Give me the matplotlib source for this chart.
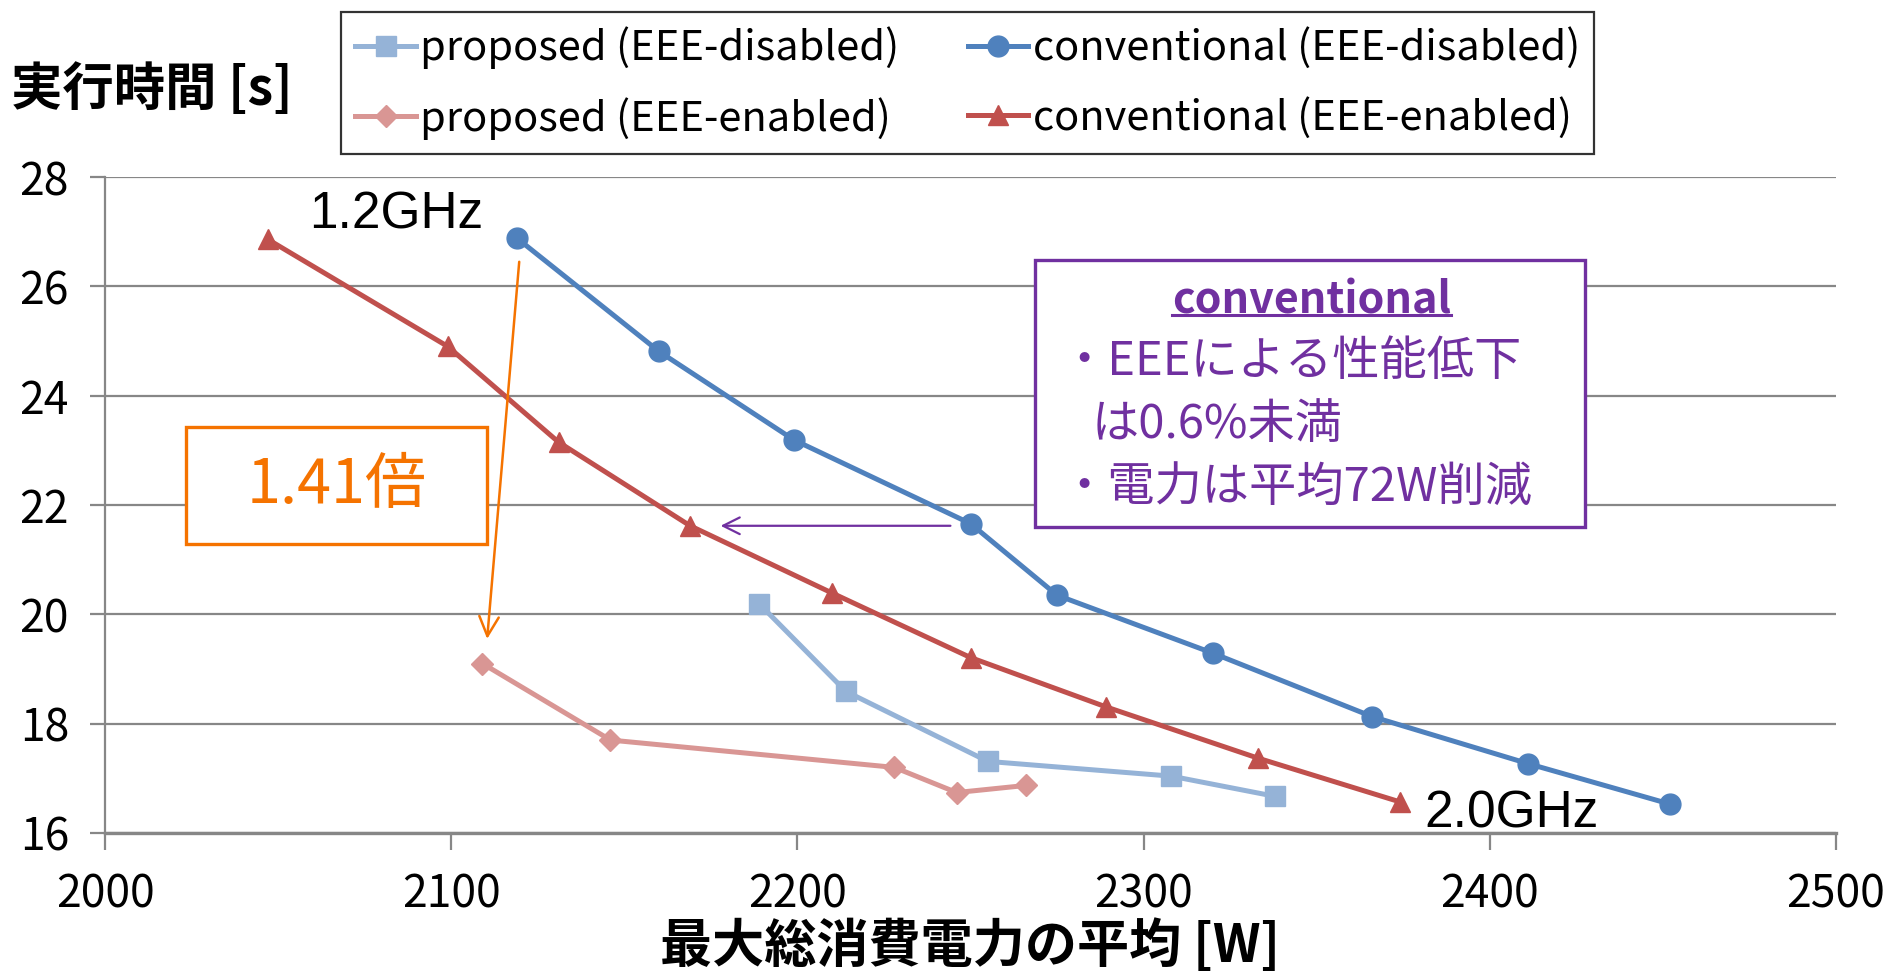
import numpy as np
import matplotlib.pyplot as plt
from matplotlib.patches import Rectangle
from matplotlib.lines import Line2D

plt.rcParams['font.family'] = ['Noto Sans CJK JP', 'DejaVu Sans']

# data
x_prop_dis = [2189, 2214, 2255, 2308, 2338]
y_prop_dis = [20.19, 18.59, 17.31, 17.04, 16.67]
x_prop_en = [2109, 2146, 2228, 2246, 2266]
y_prop_en = [19.10, 17.70, 17.20, 16.74, 16.87]
x_conv_dis = [2119, 2160, 2199, 2250, 2275, 2320, 2366, 2411, 2452]
y_conv_dis = [26.88, 24.81, 23.19, 21.66, 20.35, 19.29, 18.13, 17.27, 16.53]
x_conv_en = [2047, 2099, 2131, 2169, 2210, 2250, 2289, 2333, 2374]
y_conv_en = [26.86, 24.90, 23.15, 21.62, 20.39, 19.21, 18.31, 17.37, 16.57]

labels = ['proposed (EEE-disabled)', 'proposed (EEE-enabled)',
          'conventional (EEE-disabled)', 'conventional (EEE-enabled)']
xticks = [2000, 2100, 2200, 2300, 2400, 2500]
yticks = [16, 18, 20, 22, 24, 26, 28]

c_prop_dis = '#95B3D7'
c_prop_en = '#D99694'
c_conv_dis = '#4F81BD'
c_conv_en = '#C0504D'
orange = '#F57300'
purple = '#7030A0'
grid = '#878787'

fig = plt.figure(figsize=(18.9, 9.77), dpi=100)
ax = fig.add_axes([0.0556, 0.1474, 0.9158, 0.6714])

lw = 3.6
h1, = ax.plot(x_prop_dis, y_prop_dis, '-s', color=c_prop_dis, lw=lw, ms=14, label=labels[0], zorder=3)
h2, = ax.plot(x_prop_en, y_prop_en, '-D', color=c_prop_en, lw=lw, ms=11, label=labels[1], zorder=3)
h3, = ax.plot(x_conv_dis, y_conv_dis, '-o', color=c_conv_dis, lw=lw, ms=15, label=labels[2], zorder=3)
h4, = ax.plot(x_conv_en, y_conv_en, '-^', color=c_conv_en, lw=lw, ms=15, label=labels[3], zorder=3)

ax.set_xlim(2000, 2500)
ax.set_ylim(16, 28)
ax.set_xticks(xticks)
ax.set_yticks(yticks)
ax.tick_params(axis='x', labelsize=32, length=12, width=1.6, color=grid, pad=16)
ax.tick_params(axis='y', labelsize=32, length=11, width=1.6, color=grid, pad=15)
ax.yaxis.grid(True, color=grid, lw=1.6)
ax.set_axisbelow(True)
for s in ['top', 'right']:
    ax.spines[s].set_visible(False)
ax.spines['left'].set_color(grid)
ax.spines['left'].set_linewidth(1.6)
ax.spines['bottom'].set_color(grid)
ax.spines['bottom'].set_linewidth(2.4)

ax.set_xlabel('最大総消費電力の平均 [W]', fontsize=37.5, fontweight='bold', labelpad=1)
fig.text(0.006, 0.908, '実行時間 [s]', fontsize=37, fontweight='bold', ha='left', va='center')

leg = fig.legend([h1, h2, h3, h4], labels, ncol=2, loc='center',
                 bbox_to_anchor=(0.512, 0.915), fontsize=30, frameon=True,
                 fancybox=False, edgecolor='black', handlelength=1.45,
                 handletextpad=0.1, columnspacing=1.65, borderpad=0.34,
                 labelspacing=0.66)
leg.get_frame().set_linewidth(1.6)

# annotations
ax.text(2059, 27.3, '1.2GHz', fontsize=37, family='Liberation Sans', ha='left', va='center')
ax.text(2381, 16.35, '2.0GHz', fontsize=37, family='Liberation Sans', ha='left', va='center',
        clip_on=False)

ax.add_patch(Rectangle((2023.4, 21.29), 86.9, 2.14, facecolor='white', edgecolor=orange,
                       lw=2.4, zorder=2))
ax.text(2066.8, 22.36, '1.41倍', fontsize=44, color=orange, ha='center', va='center', zorder=4)
ax.annotate('', xy=(2110.3, 19.5), xytext=(2119.7, 26.5),
            arrowprops=dict(arrowstyle='->', color=orange, lw=1.8, mutation_scale=35), zorder=5)

ax.add_patch(Rectangle((2268.6, 21.59), 159.0, 4.9, facecolor='white', edgecolor=purple,
                       lw=2.4, zorder=2))
t_conv = ax.text(2348.6, 25.75, 'conventional', fontsize=31, fontweight='bold', color=purple,
                 ha='center', va='center', zorder=4)
ax.text(2276, 24.62, '・EEEによる性能低下', fontsize=34, color=purple, ha='left', va='center', zorder=4)
ax.text(2285, 23.46, 'は0.6%未満', fontsize=34, color=purple, ha='left', va='center', zorder=4)
ax.text(2276, 22.31, '・電力は平均72W削減', fontsize=34, color=purple, ha='left', va='center', zorder=4)
ax.annotate('', xy=(2177, 21.62), xytext=(2245, 21.62),
            arrowprops=dict(arrowstyle='->', color=purple, lw=1.6, mutation_scale=30), zorder=5)

# underline for the box title
fig.canvas.draw()
bb = t_conv.get_window_extent().transformed(fig.transFigure.inverted())
uy = bb.y0 + 0.17 * bb.height
fig.add_artist(Line2D([bb.x0, bb.x1], [uy, uy], color=purple, lw=2.2, zorder=6))

fig.savefig('out.png', dpi=100)
